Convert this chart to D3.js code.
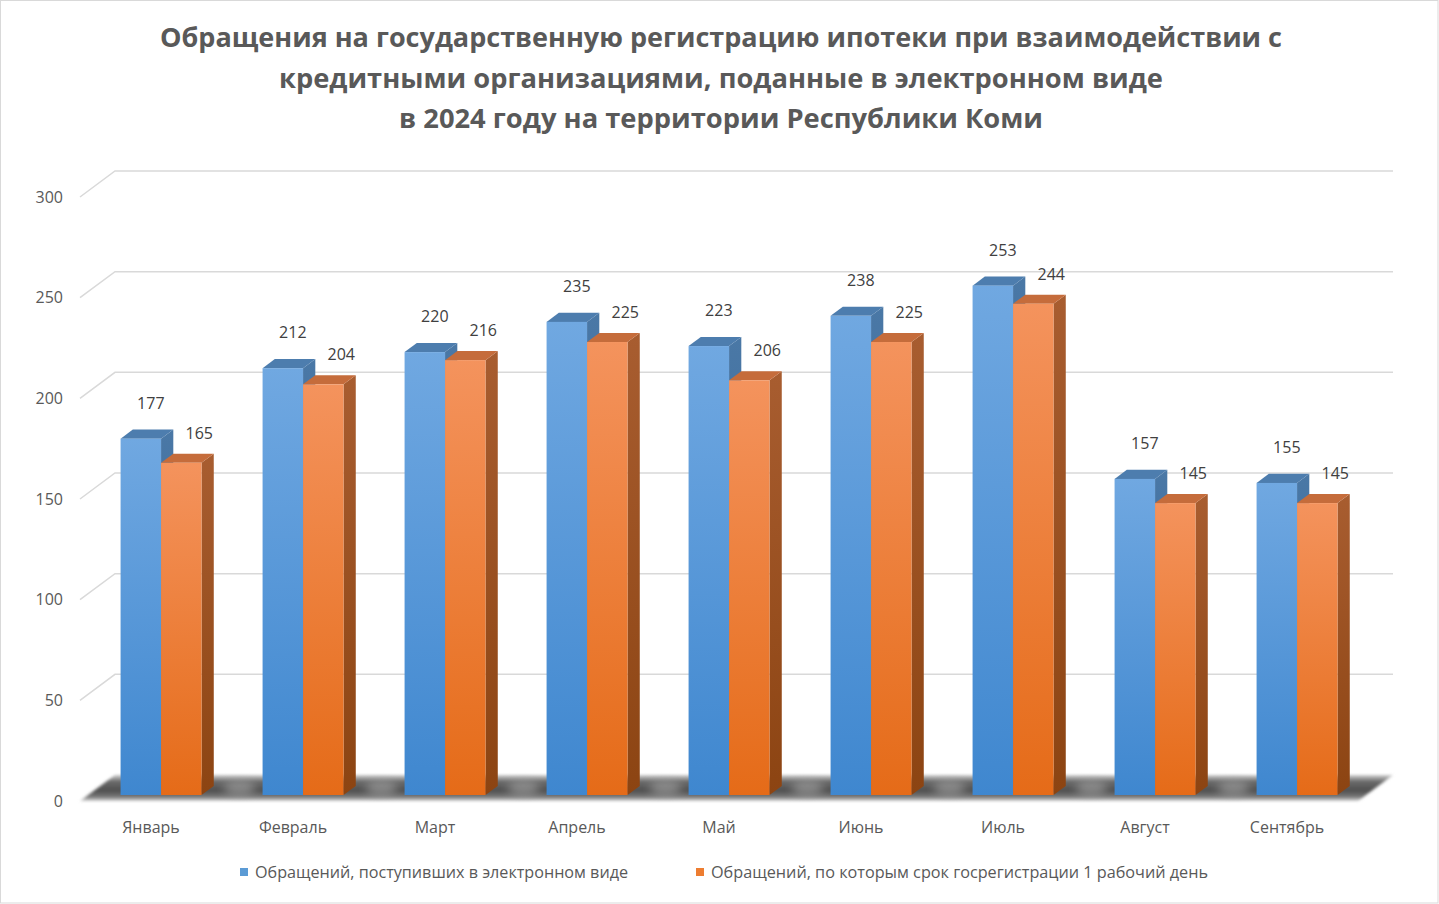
<!DOCTYPE html>
<html><head><meta charset="utf-8">
<script src="https://cdn.jsdelivr.net/npm/d3@7"></script>
<style>
html,body{margin:0;padding:0;background:#fff;}
svg{display:block;font-family:"Open Sans",sans-serif;}
</style></head>
<body><svg id="c" width="1439" height="904"></svg>
<script>
const titleLines = [
  "Обращения на государственную регистрацию ипотеки при взаимодействии  с",
  "кредитными организациями, поданные в электронном виде",
  "в 2024 году на территории Республики Коми"
];
const categories = ["Январь","Февраль","Март","Апрель","Май","Июнь","Июль","Август","Сентябрь"];
const seriesNames = ["Обращений, поступивших в электронном виде","Обращений, по которым срок госрегистрации 1 рабочий день"];
const electronic = [177,212,220,235,223,238,253,157,155];
const oneDay = [165,204,216,225,206,225,244,145,145];
const yTicks = [0,50,100,150,200,250,300];

const svg = d3.select("#c");
const W = 1439, H = 904;
svg.append("rect").attr("x",0.5).attr("y",0.5).attr("width",W-1.5).attr("height",H-1.5)
  .attr("fill","#fff").attr("stroke","#d9d9d9").attr("stroke-width",1);

// projection
const DX = 35, DY = 26;
const x = d3.scaleBand().domain(categories).range([80,1358]).paddingInner(0.43).paddingOuter(0.215);
const xs = d3.scaleBand().domain([0,1]).range([0,x.bandwidth()]);
const y = d3.scaleLinear().domain([0,300]).range([801,197]);
const P = (px, z, v) => [px + z*DX, y(v) - z*DY];

const defs = svg.append("defs");
function lg(id, stops, vertical=true){
  const g = defs.append("linearGradient").attr("id",id)
    .attr("x1",0).attr("y1",0).attr("x2",vertical?0:1).attr("y2",vertical?1:0);
  stops.forEach(s=>g.append("stop").attr("offset",s[0]).attr("stop-color",s[1]));
}
lg("blueFront",[[0,"#70a8e1"],[1,"#3f87cf"]]);
lg("orangeFront",[[0,"#f4935d"],[1,"#e56b18"]]);
lg("orangeSide",[[0,"#a85d30"],[1,"#8c4412"]]);
lg("blueSide",[[0,"#4a78a6"],[1,"#2f5f92"]]);
lg("floorG",[[0,"#d0d0d0"],[0.25,"#6a6a6a"],[0.6,"#4f4f4f"],[0.85,"#7a7a7a"],[1,"#d8d8d8"]]);
const blur = defs.append("filter").attr("id","fb").attr("x","-5%").attr("y","-50%").attr("width","110%").attr("height","200%");
blur.append("feGaussianBlur").attr("stdDeviation",1.6);
const blur2 = defs.append("filter").attr("id","fb2").attr("x","-20%").attr("y","-50%").attr("width","140%").attr("height","200%");
blur2.append("feGaussianBlur").attr("stdDeviation",5);

// gridlines (back wall + left side)
const x0 = x.range()[0], x1 = x.range()[1];
svg.append("g").selectAll("polyline").data(yTicks.filter(v=>v>0)).join("polyline")
  .attr("points", v => [[x0, y(v)], P(x0,1,v), P(x1,1,v)].map(p=>p.join(",")).join(" "))
  .attr("fill","none").attr("stroke","#d9d9d9").attr("stroke-width",1.5);

// floor
const floorPts = [P(x0,0,0),P(x1,0,0),P(x1,1,0),P(x0,1,0)];
svg.append("polygon").attr("points", floorPts.map(p=>p.join(",")).join(" "))
  .attr("fill","url(#floorG)").attr("filter","url(#fb)");
// lighter streaks between groups
svg.append("g").selectAll("ellipse").data(categories.slice(0,-1)).join("ellipse")
  .attr("cx", d => x(d) + x.step() - (x.step()-x.bandwidth())/2 + 0.5*DX)
  .attr("cy", y(0) - 0.5*DY)
  .attr("rx", 16).attr("ry", 7)
  .attr("fill","#b5b5b5").attr("opacity",0.55).attr("filter","url(#fb2)");

// axes labels
const yAxis = svg.append("g").attr("transform",`translate(${x0},0)`)
  .call(d3.axisLeft(y).tickValues(yTicks).tickSize(0).tickPadding(17).tickFormat(d3.format("d")));
yAxis.select(".domain").remove();
yAxis.selectAll("text").attr("font-size",16).attr("fill","#595959").attr("font-family","Open Sans");

const xAxis = svg.append("g").attr("transform",`translate(0,${y(0)})`)
  .call(d3.axisBottom(x).tickSize(0).tickPadding(21));
xAxis.select(".domain").remove();
xAxis.selectAll("text").attr("font-size",16).attr("fill","#595959").attr("font-family","Open Sans");

// bars
const Z0 = 0.23, Z1 = 0.58, SHIFT = 2;
const faces = [
  {front:"url(#blueFront)", top:"#4d7dae", side:"url(#blueSide)"},
  {front:"url(#orangeFront)", top:"#c56c3b", side:"url(#orangeSide)"}
];
const series = [electronic, oneDay];
const bars = [];
categories.forEach((c,i)=>{
  series.forEach((s,k)=>{
    bars.push({c, k, v:s[i], l:x(c)+xs(k)+SHIFT, r:x(c)+xs(k)+xs.bandwidth()+SHIFT});
  });
});
const pts = a => a.map(p=>p.join(",")).join(" ");
const gb = svg.append("g");
bars.forEach(b=>{
  const f = faces[b.k];
  const g = gb.append("g");
  g.append("polygon").attr("points", pts([P(b.r,Z0,0),P(b.r,Z1,0),P(b.r,Z1,b.v),P(b.r,Z0,b.v)]))
    .attr("fill", f.side);
  g.append("polygon").attr("points", pts([P(b.l,Z0,b.v),P(b.r,Z0,b.v),P(b.r,Z1,b.v),P(b.l,Z1,b.v)]))
    .attr("fill", f.top);
  const [fx, fy] = P(b.l,Z0,b.v);
  const [, by] = P(b.l,Z0,0);
  g.append("rect").attr("x",fx).attr("y",fy).attr("width",b.r-b.l).attr("height",by-fy)
    .attr("fill", f.front);
});

// value labels
svg.append("g").selectAll("text").data(bars).join("text")
  .attr("x", b => P((b.l+b.r)/2, Z0, b.v)[0] + (b.k===0 ? 10 : 18))
  .attr("y", b => P(b.l, Z0, b.v)[1] - (b.k===0 ? 30 : 24))
  .attr("text-anchor","middle").attr("font-size",16).attr("fill","#404040")
  .text(b => b.v);

// title
const titleW = [1122, 884, 644];
svg.append("g").selectAll("text").data(titleLines).join("text")
  .attr("x", 721).attr("y",(d,i)=>47 + i*40.5)
  .attr("text-anchor","middle").attr("font-size",27).attr("font-weight","bold").attr("fill","#595959")
  .attr("textLength",(d,i)=>titleW[i]).attr("lengthAdjust","spacingAndGlyphs")
  .text(d=>d);

// legend
const legColors = ["#5b9bd5","#ed7d31"];
const legX = [240, 696], legTextW = [373, 497];
const leg = svg.append("g").selectAll("g").data(seriesNames).join("g");
leg.append("rect").attr("x",(d,i)=>legX[i]).attr("y",868).attr("width",8).attr("height",8)
  .attr("fill",(d,i)=>legColors[i]);
leg.append("text").attr("x",(d,i)=>legX[i]+15).attr("y",878).attr("font-size",16).attr("fill","#595959")
  .attr("textLength",(d,i)=>legTextW[i]).attr("lengthAdjust","spacingAndGlyphs")
  .text(d=>d);
</script></body></html>
